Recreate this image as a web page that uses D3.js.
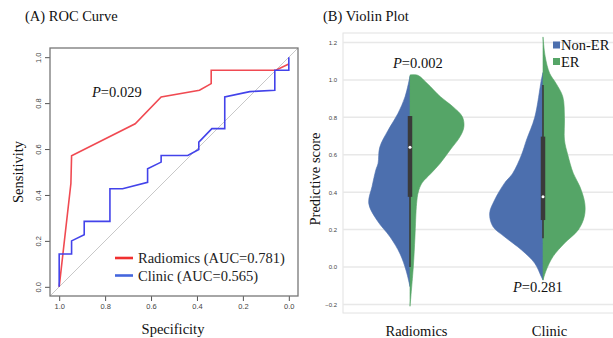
<!DOCTYPE html>
<html><head><meta charset="utf-8">
<script src="https://cdn.jsdelivr.net/npm/d3@7/dist/d3.min.js"></script>
<style>body{margin:0;background:#fff}svg{display:block}</style>
</head><body><svg id="c" width="613" height="338"></svg>
<script>
// ---------- Panel A: ROC data (specificity, sensitivity) ----------
const rocTicks = [0, 0.2, 0.4, 0.6, 0.8, 1.0];
const radiomicsROC = [[1,0],[0.949,0.45],[0.946,0.571],[0.669,0.71],[0.556,0.827],[0.389,0.856],[0.338,0.885],[0.338,0.943],[0.057,0.943],[0.0,0.97]];
const clinicROC = [[1,0],[1,0.143],[0.946,0.143],[0.946,0.2],[0.891,0.227],[0.891,0.285],[0.779,0.285],[0.779,0.427],[0.724,0.427],[0.615,0.455],[0.615,0.514],[0.556,0.543],[0.556,0.572],[0.44,0.572],[0.392,0.598],[0.392,0.63],[0.335,0.689],[0.279,0.689],[0.279,0.827],[0.17,0.85],[0.061,0.856],[0.061,0.943],[0.0,0.943],[0.0,1.0]];
const rocLabels = ["Radiomics (AUC=0.781)", "Clinic (AUC=0.565)"];
const rocPText = "=0.029";

// ---------- Panel B: violin data ----------
const violinCats = ["Radiomics", "Clinic"];
const violinTicks = [-0.2, 0.0, 0.2, 0.4, 0.6, 0.8, 1.0, 1.2];
const groups = ["Non-ER", "ER"];
// [value, relative density]
const radNonER = [[1.02,0],[0.91,0.09],[0.82,0.22],[0.73,0.40],[0.64,0.55],[0.555,0.58],[0.52,0.62],[0.43,0.69],[0.34,0.75],[0.25,0.60],[0.16,0.36],[0.07,0.18],[-0.02,0.07],[-0.105,0]];
const radER = [[1.027,0],[1.025,0.14],[0.982,0.31],[0.911,0.55],[0.857,0.78],[0.804,0.95],[0.75,0.98],[0.697,0.91],[0.626,0.73],[0.555,0.55],[0.50,0.38],[0.45,0.22],[0.40,0.15],[0.34,0.12],[0.16,0.09],[0.0,0.06],[-0.21,0]];
const clinNonER = [[1.04,0],[1.0,0.03],[0.8,0.15],[0.679,0.30],[0.6,0.39],[0.501,0.55],[0.448,0.70],[0.358,0.88],[0.287,0.97],[0.216,0.91],[0.162,0.70],[0.091,0.39],[0.02,0.15],[-0.052,0.03],[-0.07,0]];
const clinER = [[1.23,0],[1.125,0.04],[1.036,0.12],[0.98,0.24],[0.91,0.36],[0.8,0.39],[0.679,0.39],[0.6,0.45],[0.501,0.55],[0.43,0.67],[0.34,0.76],[0.269,0.75],[0.198,0.64],[0.127,0.39],[0.055,0.18],[-0.016,0.06],[-0.07,0]];
const whiskerLow = [0.0, 0.153];
const q1 = [0.375, 0.251];
const medians = [0.64, 0.376];
const q3 = [0.807, 0.697];
const whiskerHigh = [0.807, 0.973];
const pTexts = ["=0.002", "=0.281"];
const pValuesPos = [1.09, -0.09];

const svg = d3.select("#c");
svg.append("rect").attr("width",613).attr("height",338).attr("fill","#fff");
const serif = "'Liberation Serif','Times New Roman',serif";
const sans = "'Liberation Sans',Arial,sans-serif";

// ======== Panel A ========
const ax = d3.scaleLinear().domain([1.04,-0.04]).range([50,298]);
const ay = d3.scaleLinear().domain([-0.04,1.04]).range([296,48]);
const gA = svg.append("g");
gA.append("text").attr("x",25).attr("y",21).attr("font-family",serif).attr("font-size",14.5).attr("fill","#111").text("(A) ROC Curve");

// diagonal reference
gA.append("line").attr("x1",ax(1.04)).attr("y1",ay(-0.04)).attr("x2",ax(-0.04)).attr("y2",ay(1.04))
  .attr("stroke","#c8c8c8").attr("stroke-width",1);

const xAxA = d3.axisBottom(ax).tickValues(rocTicks).tickFormat(d3.format(".1f")).tickSize(5).tickPadding(3);
const gx = gA.append("g").attr("transform","translate(0,296)").call(xAxA);
gx.select(".domain").remove();
gx.selectAll("line").attr("stroke","#555");
gx.selectAll("text").attr("font-family",sans).attr("font-size",7.5).attr("fill","#444");

const yAxA = d3.axisLeft(ay).tickValues(rocTicks).tickFormat(d3.format(".1f")).tickSize(5);
const gy = gA.append("g").attr("transform","translate(50,0)").call(yAxA);
gy.select(".domain").remove();
gy.selectAll("line").attr("stroke","#555");
gy.selectAll("text").attr("font-family",sans).attr("font-size",7.5).attr("fill","#444")
  .attr("transform","rotate(-90)").attr("x",0).attr("y",-9).attr("dy",0).attr("text-anchor","middle");

const lineA = d3.line().x(d=>ax(d[0])).y(d=>ay(d[1]));
gA.append("path").datum(radiomicsROC).attr("d",lineA).attr("fill","none").attr("stroke","#f04a52").attr("stroke-width",1.6);
gA.append("path").datum(clinicROC).attr("d",lineA).attr("fill","none").attr("stroke","#4343ea").attr("stroke-width",1.6);

gA.append("rect").attr("x",50).attr("y",48).attr("width",248).attr("height",248)
  .attr("fill","none").attr("stroke","#777").attr("stroke-width",1.3);

const pA = gA.append("text").attr("x",92).attr("y",97).attr("font-family",serif).attr("font-size",14.5).attr("fill","#111");
pA.append("tspan").attr("font-style","italic").text("P");
pA.append("tspan").text(rocPText);

const rocColors = ["#f03030","#4466dd"];
rocLabels.forEach((t,i)=>{
  const yy = 258 + i*17.5;
  gA.append("line").attr("x1",115).attr("x2",133).attr("y1",yy).attr("y2",yy).attr("stroke",rocColors[i]).attr("stroke-width",2.6);
  gA.append("text").attr("x",138).attr("y",yy+5).attr("font-family",serif).attr("font-size",14.5).attr("fill","#222").text(t);
});

gA.append("text").attr("x",173).attr("y",334).attr("text-anchor","middle").attr("font-family",serif).attr("font-size",14.5).attr("fill","#111").text("Specificity");
gA.append("text").attr("transform","translate(23,172) rotate(-90)").attr("text-anchor","middle").attr("font-family",serif).attr("font-size",14.5).attr("fill","#111").text("Sensitivity");

// ======== Panel B ========
const by = d3.scaleLinear().domain([-0.246,1.251]).range([313,33]);
const bx = d3.scaleBand().domain(violinCats).range([343.5,609.5]).paddingInner(0).paddingOuter(0);
const cx = c => bx(c) + bx.bandwidth()/2;
const bw = d3.scaleLinear().domain([0,1]).range([0,55]);
const colors = ["#4c6fae","#55a567"];
const gB = svg.append("g");
gB.append("text").attr("x",323).attr("y",21).attr("font-family",serif).attr("font-size",14.5).attr("fill","#111").text("(B) Violin Plot");

gB.append("rect").attr("x",343).attr("y",33).attr("width",272).attr("height",280).attr("fill","#fff").attr("stroke","#e2e2e2").attr("stroke-width",1);
gB.selectAll(".grid").data(violinTicks).enter().append("line")
  .attr("x1",343).attr("x2",613).attr("y1",d=>by(d)).attr("y2",d=>by(d))
  .attr("stroke","#e8e8e8").attr("stroke-width",1.5);
const yAxB = d3.axisLeft(by).tickValues(violinTicks).tickFormat(d3.format(".1f")).tickSize(0).tickPadding(6);
const gyB = gB.append("g").attr("transform","translate(343,0)").call(yAxB);
gyB.select(".domain").remove();
gyB.selectAll("text").attr("font-family",sans).attr("font-size",6).attr("fill","#444");

const violinData = [[radNonER, radER],[clinNonER, clinER]];
violinCats.forEach((cat,i)=>{
  const c = cx(cat);
  violinData[i].forEach((dat,j)=>{
    const sgn = j===0 ? -1 : 1;
    const area = d3.area().y(d=>by(d[0])).x0(c).x1(d=>c + sgn*bw(d[1])).curve(d3.curveCatmullRom);
    gB.append("path").datum(dat).attr("d",area).attr("fill",colors[j]).attr("stroke",colors[j]).attr("stroke-width",0.6);
  });
  gB.append("line").attr("x1",c).attr("x2",c).attr("y1",by(whiskerLow[i])).attr("y2",by(whiskerHigh[i]))
    .attr("stroke","#3a3a3a").attr("stroke-width",1.6);
  gB.append("line").attr("x1",c).attr("x2",c).attr("y1",by(q1[i])).attr("y2",by(q3[i]))
    .attr("stroke","#3a3a3a").attr("stroke-width",4.5);
  gB.append("circle").attr("cx",c).attr("cy",by(medians[i])).attr("r",1.5).attr("fill","#fff");
  gB.append("text").attr("x",c+6.5).attr("y",336).attr("text-anchor","middle").attr("font-family",serif).attr("font-size",14.5).attr("fill","#111").text(cat);
});

// p-values
const pPos = [[393,68],[513,292]];
pTexts.forEach((t,i)=>{
  const tx = gB.append("text").attr("x",pPos[i][0]).attr("y",pPos[i][1]).attr("font-family",serif).attr("font-size",14.5).attr("fill","#111");
  tx.append("tspan").attr("font-style","italic").text("P");
  tx.append("tspan").text(t);
});

// legend
groups.forEach((g,j)=>{
  const yy = 41.5 + j*16.5;
  gB.append("rect").attr("x",553).attr("y",yy).attr("width",7).attr("height",7).attr("fill",colors[j]);
  gB.append("text").attr("x",561).attr("y",yy+8.5).attr("font-family",serif).attr("font-size",14.5).attr("fill","#111").text(g);
});

gB.append("text").attr("transform","translate(320,179) rotate(-90)").attr("text-anchor","middle").attr("font-family",serif).attr("font-size",14.5).attr("fill","#111").text("Predictive score");
</script></body></html>
